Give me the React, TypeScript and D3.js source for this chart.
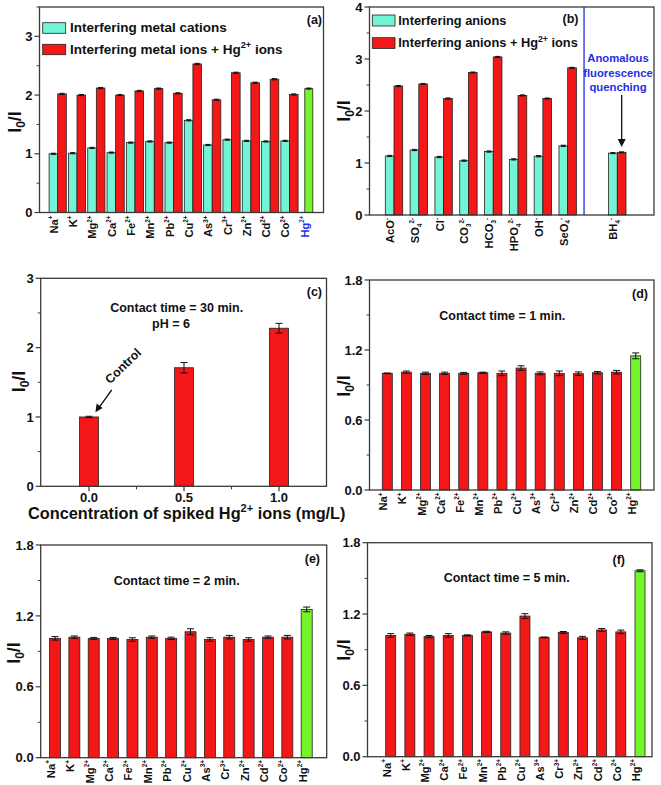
import React from 'react';
import * as d3 from 'd3';

// ---------- data ----------
const cationLabels = ['Na^+', 'K^+', 'Mg^{2+}', 'Ca^{2+}', 'Fe^{2+}', 'Mn^{2+}', 'Pb^{2+}', 'Cu^{2+}', 'As^{3+}', 'Cr^{3+}', 'Zn^{2+}', 'Cd^{2+}', 'Co^{2+}', 'Hg^{2+}'];
const aCation = [1.0, 1.01, 1.1, 1.02, 1.19, 1.21, 1.19, 1.57, 1.15, 1.24, 1.22, 1.21, 1.22];
const aMix = [2.02, 2.0, 2.12, 2.0, 2.07, 2.11, 2.03, 2.53, 1.92, 2.38, 2.21, 2.27, 2.01];
const aHg = 2.11;

const anionLabels = ['AcO^-', 'SO_4^{2-}', 'Cl^-', 'CO_3^{2-}', 'HCO_3^-', 'HPO_4^{2-}', 'OH^-', 'SeO_4^-'];
const bAnion = [1.135, 1.25, 1.115, 1.045, 1.22, 1.07, 1.13, 1.33];
const bMix = [2.48, 2.52, 2.24, 2.74, 3.04, 2.3, 2.24, 2.83];
const specialLabel = 'BH_4^-';
const bSpecialAnion = 1.19;
const bSpecialMix = 1.205;

const cConc = [0.0, 0.5, 1.0];
const cValues = [1.0, 1.71, 2.28];
const cErr = [0.01, 0.075, 0.07];
const cTickLabels = ['0.0', '0.5', '1.0'];

const dValues = [1.0, 1.01, 1.0, 1.0, 1.0, 1.005, 1.0, 1.045, 1.0, 1.0, 0.997, 1.005, 1.01, 1.15];
const dErr = [0.003, 0.01, 0.01, 0.01, 0.008, 0.005, 0.02, 0.02, 0.012, 0.02, 0.015, 0.01, 0.015, 0.025];
const eValues = [1.01, 1.02, 1.01, 1.01, 1.0, 1.02, 1.01, 1.066, 1.0, 1.02, 1.0, 1.02, 1.02, 1.255];
const eErr = [0.015, 0.01, 0.008, 0.008, 0.015, 0.01, 0.01, 0.025, 0.015, 0.015, 0.015, 0.01, 0.015, 0.02];
const fValues = [1.02, 1.03, 1.01, 1.02, 1.02, 1.05, 1.04, 1.183, 1.004, 1.045, 1.0, 1.066, 1.05, 1.564];
const fErr = [0.015, 0.01, 0.01, 0.015, 0.005, 0.005, 0.01, 0.02, 0.003, 0.008, 0.012, 0.012, 0.015, 0.008];

const ticksA = [0, 1, 2, 3];
const ticksB = [0, 1, 2, 3, 4];
const ticksC = [0, 1, 2, 3];
const ticksDEF = [0, 0.6, 1.2, 1.8];

// ---------- style ----------
const FONT = '"Liberation Sans", Arial, Helvetica, sans-serif';
const CYAN = '#72f4d6';
const RED = '#f41717';
const GREEN = '#74f52a';
const BLUE = '#1f2fe6';
const FRAME = '#3a3a3a';

type Box = { l: number; t: number; r: number; b: number };

type Seg = { t: string; k: 'n' | 'sub' | 'sup' };
function parse(spec: string): Seg[] {
  const out: Seg[] = [];
  let i = 0;
  let buf = '';
  while (i < spec.length) {
    const ch = spec[i];
    if (ch === '_' || ch === '^') {
      if (buf) { out.push({ t: buf, k: 'n' }); buf = ''; }
      let txt = '';
      if (spec[i + 1] === '{') {
        const j = spec.indexOf('}', i + 2);
        txt = spec.slice(i + 2, j);
        i = j + 1;
      } else {
        txt = spec[i + 1];
        i += 2;
      }
      out.push({ t: txt, k: ch === '_' ? 'sub' : 'sup' });
    } else {
      buf += ch;
      i++;
    }
  }
  if (buf) out.push({ t: buf, k: 'n' });
  return out;
}

function Rich({ spec, fs, small = 0.68 }: { spec: string; fs: number; small?: number }) {
  const segs = parse(spec);
  let cur = 0;
  return (
    <>
      {segs.map((s, i) => {
        const target = s.k === 'sup' ? -0.42 * fs : s.k === 'sub' ? 0.25 * fs : 0;
        const dy = target - cur;
        cur = target;
        return (
          <tspan key={i} dy={dy} fontSize={s.k === 'n' ? fs : fs * small}>
            {s.t}
          </tspan>
        );
      })}
    </>
  );
}

function YAxis({ box, y, ticks, minor, fmt, titleX, titleY }: any) {
  return (
    <g fontFamily={FONT} fontWeight="bold">
      {ticks.map((v: number) => (
        <g key={'M' + v}>
          <line x1={box.l - 5} x2={box.l} y1={y(v)} y2={y(v)} stroke={FRAME} strokeWidth={1.2} />
          <text x={box.l - 7} y={y(v)} dy="0.36em" textAnchor="end" fontSize={13} fill="#111">
            {fmt(v)}
          </text>
        </g>
      ))}
      {minor.map((v: number) => (
        <line key={'m' + v} x1={box.l - 3} x2={box.l} y1={y(v)} y2={y(v)} stroke={FRAME} strokeWidth={1} />
      ))}
      <text transform={`translate(${titleX},${titleY}) rotate(-90)`} textAnchor="middle" dy="0.35em" fontSize={18} fill="#111">
        I<tspan fontSize={12} dy={4}>0</tspan>
        <tspan dy={-4}>/I</tspan>
      </text>
    </g>
  );
}

function FrameRect({ box }: { box: Box }) {
  return <rect x={box.l} y={box.t} width={box.r - box.l} height={box.b - box.t} fill="none" stroke={FRAME} strokeWidth={1.3} />;
}

const LABEL_FS = 11.2;
function CatLabel({ x, yTop, spec, fill = '#111' }: { x: number; yTop: number; spec: string; fill?: string }) {
  return (
    <text transform={`translate(${x},${yTop}) rotate(-90)`} textAnchor="end" dy={3.9} fontSize={LABEL_FS} fontWeight="bold" fontFamily={FONT} fill={fill}>
      <Rich spec={spec} fs={LABEL_FS} small={0.56} />
    </text>
  );
}

function Bar({ x, w, y0, y1, fill }: { x: number; w: number; y0: number; y1: number; fill: string }) {
  return <rect x={x} y={y1} width={w} height={y0 - y1} fill={fill} stroke="#222" strokeWidth={0.8} />;
}

function ErrBar({ x, yLo, yHi, cap }: { x: number; yLo: number; yHi: number; cap: number }) {
  return (
    <g stroke="#111" strokeWidth={1}>
      <line x1={x} x2={x} y1={yLo} y2={yHi} />
      <line x1={x - cap / 2} x2={x + cap / 2} y1={yLo} y2={yLo} />
      <line x1={x - cap / 2} x2={x + cap / 2} y1={yHi} y2={yHi} />
    </g>
  );
}

function minorOf(ticks: number[]) {
  const out: number[] = [];
  for (let i = 0; i < ticks.length - 1; i++) out.push((ticks[i] + ticks[i + 1]) / 2);
  return out;
}

// ---------- panels ----------
function PanelA() {
  const box: Box = { l: 39.5, t: 7, r: 323.5, b: 212.5 };
  const y = d3.scaleLinear().domain([0, 3.5]).range([box.b, box.t]);
  const x = d3.scaleLinear().domain([0, cationLabels.length - 1]).range([57.7, 308.8]);
  const bw = 8.6;
  return (
    <g>
      {aCation.map((v, i) => (
        <g key={i}>
          <Bar x={x(i) - bw} w={bw} y0={y(0)} y1={y(v)} fill={CYAN} />
          <Bar x={x(i)} w={bw} y0={y(0)} y1={y(aMix[i])} fill={RED} />
          <ErrBar x={x(i) - bw / 2} yLo={y(v - 0.01)} yHi={y(v + 0.01)} cap={5} />
          <ErrBar x={x(i) + bw / 2} yLo={y(aMix[i] - 0.01)} yHi={y(aMix[i] + 0.01)} cap={5} />
        </g>
      ))}
      <Bar x={x(13) - 4} w={8} y0={y(0)} y1={y(aHg)} fill={GREEN} />
      <ErrBar x={x(13)} yLo={y(aHg - 0.01)} yHi={y(aHg + 0.01)} cap={5} />
      {cationLabels.map((s, i) => (
        <CatLabel key={i} x={x(i)} yTop={box.b + 3} spec={s} fill={i === 13 ? BLUE : '#111'} />
      ))}
      <FrameRect box={box} />
      <YAxis box={box} y={y} ticks={ticksA} minor={minorOf([...ticksA, 4])} fmt={(v: number) => String(v)} titleX={15} titleY={122} />
      <g fontFamily={FONT} fontWeight="bold" fill="#111">
        <rect x={42.7} y={22.7} width={23} height={10.6} fill={CYAN} stroke="#222" strokeWidth={0.8} />
        <text x={70} y={32} fontSize={13.5}>Interfering metal cations</text>
        <rect x={42.7} y={44.3} width={23} height={10.4} fill={RED} stroke="#222" strokeWidth={0.8} />
        <text x={70} y={53.6} fontSize={13.5}>
          <Rich spec={'Interfering metal ions + Hg^{2+} ions'} fs={13.5} />
        </text>
        <text x={322} y={24} textAnchor="end" fontSize={12.5}>(a)</text>
      </g>
    </g>
  );
}

function PanelB() {
  const box: Box = { l: 369.5, t: 7, r: 654, b: 215 };
  const y = d3.scaleLinear().domain([0, 4]).range([box.b, box.t]);
  const x = d3.scaleLinear().domain([0, anionLabels.length + 1]).range([394, 617.3]);
  const bw = 8.7;
  const si = anionLabels.length + 1;
  const sepX = x(anionLabels.length - 0.34);
  return (
    <g>
      {bAnion.map((v, i) => (
        <g key={i}>
          <Bar x={x(i) - bw} w={bw} y0={y(0)} y1={y(v)} fill={CYAN} />
          <Bar x={x(i)} w={bw} y0={y(0)} y1={y(bMix[i])} fill={RED} />
          <ErrBar x={x(i) - bw / 2} yLo={y(v - 0.012)} yHi={y(v + 0.012)} cap={5} />
          <ErrBar x={x(i) + bw / 2} yLo={y(bMix[i] - 0.01)} yHi={y(bMix[i] + 0.01)} cap={5} />
        </g>
      ))}
      <Bar x={x(si) - bw} w={bw} y0={y(0)} y1={y(bSpecialAnion)} fill={CYAN} />
      <Bar x={x(si)} w={bw} y0={y(0)} y1={y(bSpecialMix)} fill={RED} />
      <ErrBar x={x(si) - bw / 2} yLo={y(bSpecialAnion - 0.01)} yHi={y(bSpecialAnion + 0.01)} cap={5} />
      <ErrBar x={x(si) + bw / 2} yLo={y(bSpecialMix - 0.01)} yHi={y(bSpecialMix + 0.01)} cap={5} />
      {anionLabels.map((s, i) => (
        <CatLabel key={i} x={x(i)} yTop={box.b + 3} spec={s} />
      ))}
      <CatLabel x={x(si)} yTop={box.b + 3} spec={specialLabel} />
      <line x1={sepX} x2={sepX} y1={box.t} y2={box.b} stroke={BLUE} strokeWidth={1.3} />
      <FrameRect box={box} />
      <YAxis box={box} y={y} ticks={ticksB} minor={minorOf(ticksB)} fmt={(v: number) => String(v)} titleX={344} titleY={111} />
      <g fontFamily={FONT} fontWeight="bold" fill="#111">
        <rect x={372.3} y={15} width={22.7} height={11} fill={CYAN} stroke="#222" strokeWidth={0.8} />
        <text x={398.3} y={24.5} fontSize={12.8}>Interfering anions</text>
        <rect x={372.3} y={37.7} width={22.7} height={10.7} fill={RED} stroke="#222" strokeWidth={0.8} />
        <text x={398.3} y={47} fontSize={12.8}>
          <Rich spec={'Interfering anions + Hg^{2+} ions'} fs={12.8} />
        </text>
        <text x={578.5} y={23} textAnchor="end" fontSize={12.5}>(b)</text>
        <g fill={BLUE} fontSize={11.3} textAnchor="middle">
          <text x={618} y={62}>Anomalous</text>
          <text x={618} y={76.5}>fluorescence</text>
          <text x={618} y={91}>quenching</text>
        </g>
      </g>
      <line x1={621.7} x2={621.7} y1={95} y2={140} stroke="#111" strokeWidth={1.3} />
      <path d={`M617.7,139 L625.7,139 L621.7,147 Z`} fill="#111" />
    </g>
  );
}

function PanelC() {
  const box: Box = { l: 40.7, t: 278.3, r: 326.5, b: 486.3 };
  const y = d3.scaleLinear().domain([0, 3]).range([box.b, box.t]);
  const x = d3.scaleLinear().domain([-0.25, 1.25]).range([41.5, 326.5]);
  const bw = x(0.1) - x(0);
  return (
    <g>
      {cValues.map((v, i) => (
        <g key={i}>
          <Bar x={x(cConc[i]) - bw / 2} w={bw} y0={y(0)} y1={y(v)} fill={RED} />
          <ErrBar x={x(cConc[i])} yLo={y(v - cErr[i])} yHi={y(v + cErr[i])} cap={7} />
        </g>
      ))}
      <FrameRect box={box} />
      {cConc.map((c, i) => (
        <g key={i}>
          <line x1={x(c)} x2={x(c)} y1={box.b} y2={box.b + 5} stroke={FRAME} strokeWidth={1.2} />
          <text x={x(c)} y={502} textAnchor="middle" fontSize={13} fontWeight="bold" fontFamily={FONT} fill="#111">
            {cTickLabels[i]}
          </text>
        </g>
      ))}
      {[0.25, 0.75].map((c) => (
        <line key={c} x1={x(c)} x2={x(c)} y1={box.b} y2={box.b + 3} stroke={FRAME} strokeWidth={1} />
      ))}
      <YAxis box={box} y={y} ticks={ticksC} minor={minorOf(ticksC)} fmt={(v: number) => String(v)} titleX={19} titleY={381.5} />
      <g fontFamily={FONT} fontWeight="bold" fill="#111">
        <text x={176.7} y={311.5} textAnchor="middle" fontSize={12.5}>Contact time = 30 min.</text>
        <text x={171} y={328.3} textAnchor="middle" fontSize={12.5}>pH = 6</text>
        <text x={322} y={296} textAnchor="end" fontSize={12.5}>(c)</text>
        <text transform="translate(126,369) rotate(-44)" textAnchor="middle" fontSize={12.5}>Control</text>
        <text x={28} y={519} fontSize={16.3}>
          <Rich spec={'Concentration of spiked Hg^{2+} ions (mg/L)'} fs={16.3} />
        </text>
      </g>
      <line x1={111.7} x2={99.5} y1={390} y2={406.8} stroke="#111" strokeWidth={1.3} />
      <path d="M95.5,412.3 L96.6,403.6 L102.6,408 Z" fill="#111" />
    </g>
  );
}

function MetalPanel({ box, xr, values, errs, title, tx, tty, tag, tagX, tagY, titleX, titleY, bw }: any) {
  const y = d3.scaleLinear().domain([0, 1.8]).range([box.b, box.t]);
  const x = d3.scaleLinear().domain([0, cationLabels.length - 1]).range(xr);
  return (
    <g>
      {values.map((v: number, i: number) => (
        <g key={i}>
          <Bar x={x(i) - bw / 2} w={bw} y0={y(0)} y1={y(v)} fill={i === values.length - 1 ? GREEN : RED} />
          <ErrBar x={x(i)} yLo={y(v - errs[i])} yHi={y(v + errs[i])} cap={7} />
        </g>
      ))}
      {cationLabels.map((s, i) => (
        <CatLabel key={i} x={x(i)} yTop={box.b + 2.5} spec={s} />
      ))}
      <FrameRect box={box} />
      <YAxis box={box} y={y} ticks={ticksDEF} minor={minorOf(ticksDEF)} fmt={(v: number) => v.toFixed(1)} titleX={titleX} titleY={titleY} />
      <g fontFamily={FONT} fontWeight="bold" fill="#111">
        <text x={tx} y={tty} textAnchor="middle" fontSize={12.5}>{title}</text>
        <text x={tagX} y={tagY} textAnchor="end" fontSize={12.5}>{tag}</text>
      </g>
    </g>
  );
}

export default function App() {
  return (
    <svg width={661} height={785} style={{ position: 'absolute', left: 0, top: 0, background: '#fff' }}>
      <rect x={0} y={0} width={661} height={785} fill="#fff" />
      <PanelA />
      <PanelB />
      <PanelC />
      <MetalPanel
        box={{ l: 369.5, t: 280, r: 654, b: 490 }}
        xr={[387.3, 635.7]}
        values={dValues}
        errs={dErr}
        bw={10}
        title="Contact time = 1 min."
        tx={502.3}
        tty={320}
        tag="(d)"
        tagX={648}
        tagY={298}
        titleX={344}
        titleY={386}
      />
      <MetalPanel
        box={{ l: 40.7, t: 545, r: 326.7, b: 757.7 }}
        xr={[55, 306.7]}
        values={eValues}
        errs={eErr}
        bw={11}
        title="Contact time = 2 min."
        tx={176.7}
        tty={585}
        tag="(e)"
        tagX={320}
        tagY={563}
        titleX={13.5}
        titleY={653}
      />
      <MetalPanel
        box={{ l: 367.5, t: 542.7, r: 652, b: 756.7 }}
        xr={[390.7, 640]}
        values={fValues}
        errs={fErr}
        bw={10}
        title="Contact time = 5 min."
        tx={506.7}
        tty={581.7}
        tag="(f)"
        tagX={625}
        tagY={563.5}
        titleX={343.5}
        titleY={650}
      />
    </svg>
  );
}
